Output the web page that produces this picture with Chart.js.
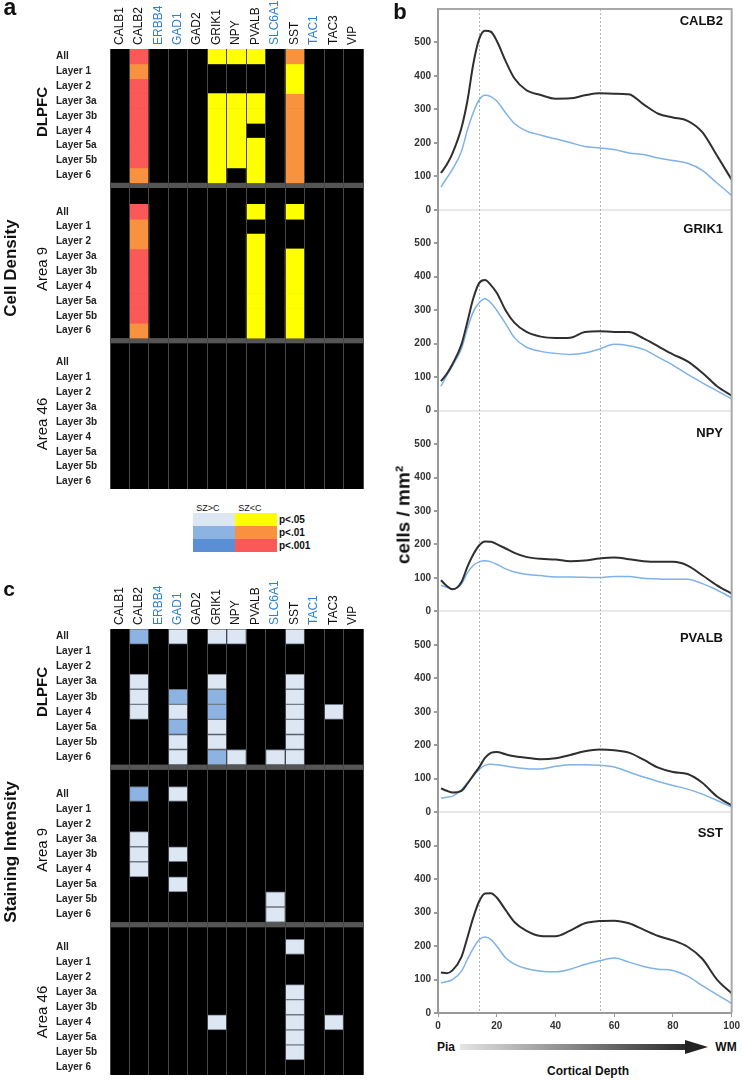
<!DOCTYPE html>
<html>
<head>
<meta charset="utf-8">
<script src="https://cdn.jsdelivr.net/npm/chart.js@4.4.0/dist/chart.umd.min.js"></script>
<style>
  body { margin: 0; background: #fff; font-family: "Liberation Sans", Arial, sans-serif; }
  #page { position: relative; width: 743px; height: 1081px; overflow: hidden; }
  canvas { position: absolute; }
  .t { position: absolute; white-space: nowrap; line-height: 1; color: #111; transform: translate(-50%, -50%); }
  .r { transform: translate(-50%, -50%) rotate(-90deg); }
  .b { font-weight: bold; }
  .lg { position: absolute; }
</style>
</head>
<body>
<div id="page">
  <canvas id="heatA" width="380" height="500" style="left:0;top:0"></canvas>
  <canvas id="heatC" width="380" height="501" style="left:0;top:580px"></canvas>
  <canvas id="depthChart" width="353" height="1035" style="left:390px;top:0"></canvas>

  <div class="t b" style="left:10px;top:7px;font-size:23px">a</div>
  <div class="t b" style="left:400px;top:12px;font-size:22px">b</div>
  <div class="t b" style="left:9px;top:588px;font-size:21px">c</div>

  <div class="t r b" style="left:10px;top:268px;font-size:17px">Cell Density</div>
  <div class="t r b" style="left:41px;top:112px;font-size:15px">DLPFC</div>
  <div class="t r" style="left:41px;top:269px;font-size:15px">Area 9</div>
  <div class="t r" style="left:41px;top:424px;font-size:15px">Area 46</div>

  <div class="t r b" style="left:10px;top:852px;font-size:17px">Staining Intensity</div>
  <div class="t r b" style="left:41px;top:692px;font-size:15px">DLPFC</div>
  <div class="t r" style="left:41px;top:850px;font-size:15px">Area 9</div>
  <div class="t r" style="left:41px;top:1012px;font-size:15px">Area 46</div>

  <div id="legend"></div>

  <div class="t r b" style="left:403px;top:515px;font-size:19px">cells / mm²</div>
  <div class="t b" style="left:726px;top:1047px;font-size:12px">WM</div>
  <div class="t b" style="left:446px;top:1047px;font-size:12px">Pia</div>
  <div style="position:absolute;left:460px;top:1044px;width:226px;height:6px;background:linear-gradient(to right,#e4e4e4,#2a2a2a)"></div>
  <div style="position:absolute;left:685px;top:1040px;width:0;height:0;border-left:23px solid #222;border-top:7px solid transparent;border-bottom:7px solid transparent"></div>
  <div class="t b" style="left:588px;top:1071px;font-size:12px">Cortical Depth</div>
  <div id="panelNames"></div>
</div>

<script>
// ---- heatmap data ----
const genes = ['CALB1', 'CALB2', 'ERBB4', 'GAD1', 'GAD2', 'GRIK1', 'NPY', 'PVALB', 'SLC6A1', 'SST', 'TAC1', 'TAC3', 'VIP'];
const blueGenes = ['ERBB4', 'GAD1', 'SLC6A1', 'TAC1'];
const layers = ['All', 'Layer 1', 'Layer 2', 'Layer 3a', 'Layer 3b', 'Layer 4', 'Layer 5a', 'Layer 5b', 'Layer 6'];
const sigLabels = ['p<.05', 'p<.01', 'p<.001'];

// 0 = n.s., 1 = p<.05, 2 = p<.01, 3 = p<.001 ; one row per layer, columns follow genes
const densityDLPFC = [
  [0,3,0,0,0,1,1,1,0,2,0,0,0],
  [0,2,0,0,0,0,0,0,0,1,0,0,0],
  [0,3,0,0,0,0,0,0,0,1,0,0,0],
  [0,3,0,0,0,1,1,1,0,2,0,0,0],
  [0,3,0,0,0,1,1,1,0,2,0,0,0],
  [0,3,0,0,0,1,1,0,0,2,0,0,0],
  [0,3,0,0,0,1,1,1,0,2,0,0,0],
  [0,3,0,0,0,1,1,1,0,2,0,0,0],
  [0,2,0,0,0,1,0,1,0,2,0,0,0]
];
const densityArea9 = [
  [0,3,0,0,0,0,0,1,0,1,0,0,0],
  [0,2,0,0,0,0,0,0,0,0,0,0,0],
  [0,2,0,0,0,0,0,1,0,0,0,0,0],
  [0,3,0,0,0,0,0,1,0,1,0,0,0],
  [0,3,0,0,0,0,0,1,0,1,0,0,0],
  [0,3,0,0,0,0,0,1,0,1,0,0,0],
  [0,3,0,0,0,0,0,1,0,1,0,0,0],
  [0,3,0,0,0,0,0,1,0,1,0,0,0],
  [0,2,0,0,0,0,0,1,0,1,0,0,0]
];
const densityArea46 = [
  [0,0,0,0,0,0,0,0,0,0,0,0,0],
  [0,0,0,0,0,0,0,0,0,0,0,0,0],
  [0,0,0,0,0,0,0,0,0,0,0,0,0],
  [0,0,0,0,0,0,0,0,0,0,0,0,0],
  [0,0,0,0,0,0,0,0,0,0,0,0,0],
  [0,0,0,0,0,0,0,0,0,0,0,0,0],
  [0,0,0,0,0,0,0,0,0,0,0,0,0],
  [0,0,0,0,0,0,0,0,0,0,0,0,0],
  [0,0,0,0,0,0,0,0,0,0,0,0,0]
];
const intensityDLPFC = [
  [0,2,0,1,0,1,1,0,0,1,0,0,0],
  [0,0,0,0,0,0,0,0,0,0,0,0,0],
  [0,0,0,0,0,0,0,0,0,0,0,0,0],
  [0,1,0,0,0,1,0,0,0,1,0,0,0],
  [0,1,0,2,0,2,0,0,0,1,0,0,0],
  [0,1,0,1,0,2,0,0,0,1,0,1,0],
  [0,0,0,2,0,1,0,0,0,1,0,0,0],
  [0,0,0,1,0,1,0,0,0,1,0,0,0],
  [0,0,0,1,0,2,1,0,1,1,0,0,0]
];
const intensityArea9 = [
  [0,2,0,1,0,0,0,0,0,0,0,0,0],
  [0,0,0,0,0,0,0,0,0,0,0,0,0],
  [0,0,0,0,0,0,0,0,0,0,0,0,0],
  [0,1,0,0,0,0,0,0,0,0,0,0,0],
  [0,1,0,1,0,0,0,0,0,0,0,0,0],
  [0,1,0,0,0,0,0,0,0,0,0,0,0],
  [0,0,0,1,0,0,0,0,0,0,0,0,0],
  [0,0,0,0,0,0,0,0,1,0,0,0,0],
  [0,0,0,0,0,0,0,0,1,0,0,0,0]
];
const intensityArea46 = [
  [0,0,0,0,0,0,0,0,0,1,0,0,0],
  [0,0,0,0,0,0,0,0,0,0,0,0,0],
  [0,0,0,0,0,0,0,0,0,0,0,0,0],
  [0,0,0,0,0,0,0,0,0,1,0,0,0],
  [0,0,0,0,0,0,0,0,0,1,0,0,0],
  [0,0,0,0,0,1,0,0,0,1,0,1,0],
  [0,0,0,0,0,0,0,0,0,1,0,0,0],
  [0,0,0,0,0,0,0,0,0,1,0,0,0],
  [0,0,0,0,0,0,0,0,0,0,0,0,0]
];

// ---- cortical depth profiles (cells / mm2) ----
const depth = [1, 3, 5, 8, 10, 12, 14, 16, 18, 20, 23, 26, 30, 35, 40, 45, 50, 55, 60, 65, 70, 75, 80, 85, 90, 95, 100];
const calb2Black = [110, 135, 170, 245, 325, 435, 510, 535, 532, 505, 445, 393, 358, 343, 332, 333, 342, 348, 347, 345, 315, 287, 276, 266, 232, 162, 90];
const calb2Blue  = [68, 95, 122, 175, 238, 290, 328, 342, 338, 325, 290, 258, 236, 223, 212, 201, 189, 185, 180, 170, 165, 155, 147, 139, 118, 80, 43];
const grik1Black = [88, 110, 140, 198, 265, 335, 381, 390, 375, 352, 300, 263, 236, 221, 217, 218, 235, 237, 235, 235, 216, 192, 168, 147, 113, 73, 45];
const grik1Blue  = [73, 105, 135, 185, 245, 295, 322, 334, 322, 300, 260, 218, 190, 177, 171, 168, 172, 184, 198, 194, 183, 160, 136, 108, 83, 59, 35];
const npyBlack   = [93, 76, 66, 88, 133, 170, 197, 209, 208, 201, 188, 175, 163, 157, 155, 150, 152, 158, 161, 156, 150, 148, 148, 137, 108, 78, 53];
const npyBlue    = [78, 72, 67, 82, 115, 137, 148, 151, 148, 141, 127, 118, 111, 107, 103, 103, 102, 101, 104, 104, 99, 97, 96, 96, 83, 64, 40];
const pvalbBlack = [71, 64, 59, 64, 85, 110, 134, 162, 177, 180, 173, 167, 163, 158, 161, 171, 182, 187, 185, 178, 157, 133, 120, 114, 88, 47, 20];
const pvalbBlue  = [42, 45, 48, 67, 88, 108, 128, 140, 143, 142, 138, 134, 130, 129, 137, 142, 142, 140, 135, 120, 105, 92, 80, 69, 54, 35, 15];
const sstBlack   = [121, 119, 128, 168, 225, 285, 333, 357, 358, 345, 308, 272, 246, 230, 229, 246, 268, 275, 276, 268, 249, 230, 217, 198, 162, 100, 59];
const sstBlue    = [90, 94, 100, 125, 160, 193, 219, 227, 220, 200, 165, 146, 133, 125, 123, 131, 145, 156, 164, 152, 139, 131, 127, 110, 82, 55, 29];
const layerBounds = [14, 55];

const panels = [
  { name: 'CALB2', black: calb2Black, blue: calb2Blue, labelY: 20 },
  { name: 'GRIK1', black: grik1Black, blue: grik1Blue, labelY: 228 },
  { name: 'NPY', black: npyBlack, blue: npyBlue, labelY: 432 },
  { name: 'PVALB', black: pvalbBlack, blue: pvalbBlue, labelY: 637 },
  { name: 'SST', black: sstBlack, blue: sstBlue, labelY: 832 }
];

const densityColors = ['#000', '#ffff00', '#f8923f', '#fb5858'];
const intensityColors = ['#000', '#dde7f4', '#8db3e2', '#5a8fd6'];

Chart.defaults.font.family = '"Liberation Sans", Arial, sans-serif';

// layout of the heatmap rows, in row units
const blockTop = [0, 10.45, 20.6];
const blockMax = 29.6;
const sepBands = [[9, 9.35], [19.45, 19.8]];

const heatBg = {
  id: 'heatBg',
  beforeDatasetsDraw(chart) {
    const { ctx, chartArea: a } = chart;
    const y = chart.scales.y;
    ctx.save();
    ctx.fillStyle = '#000';
    ctx.fillRect(a.left, a.top, a.width, a.height);
    ctx.fillStyle = '#555';
    sepBands.forEach(([s, e]) => {
      const y0 = y.getPixelForValue(s);
      const y1 = y.getPixelForValue(e);
      ctx.fillRect(a.left, y0, a.width, y1 - y0);
    });
    ctx.restore();
  }
};

function drawHeat(id, blocks, palette, outlined, padBottom) {
  const rowCenters = [];
  const rowNames = [];
  const datasets = [];
  blocks.forEach((block, b) => {
    block.forEach((codes, l) => {
      const top = blockTop[b] + l;
      rowCenters.push(top + 0.5);
      rowNames.push(layers[l]);
      datasets.push({
        data: codes.map(c => (c ? [top, top + 1] : null)),
        backgroundColor: codes.map(c => palette[c]),
        borderColor: outlined ? 'rgba(120,130,145,0.9)' : 'rgba(0,0,0,0)',
        borderWidth: outlined ? 1 : 0,
        borderSkipped: false,
        grouped: false,
        categoryPercentage: 1,
        barPercentage: 1
      });
    });
  });

  return new Chart(document.getElementById(id), {
    type: 'bar',
    data: { labels: genes, datasets: datasets },
    plugins: [heatBg],
    options: {
      responsive: false,
      animation: false,
      devicePixelRatio: 1,
      events: [],
      layout: { padding: { left: 56, right: 17, top: 0, bottom: padBottom } },
      plugins: { legend: { display: false }, tooltip: { enabled: false } },
      scales: {
        x: {
          position: 'top',
          afterFit: s => { s.height = 49; },
          grid: { offset: true, color: '#474747', lineWidth: 1, drawTicks: false, z: 1 },
          border: { display: false },
          ticks: {
            minRotation: 90, maxRotation: 90, padding: 4, autoSkip: false, labelOffset: 14,
            font: { size: 12 },
            color: c => (blueGenes.includes(genes[c.index]) ? '#2d80d2' : '#111')
          }
        },
        y: {
          min: 0, max: blockMax, reverse: true,
          afterFit: s => { s.width = 54; },
          afterBuildTicks: s => { s.ticks = rowCenters.map(v => ({ value: v })); },
          grid: { display: false },
          border: { display: false },
          ticks: {
            autoSkip: false, crossAlign: 'far', padding: 0,
            font: { size: 10, weight: 'bold' }, color: '#222',
            callback: (v, i) => rowNames[i]
          }
        }
      }
    }
  });
}

drawHeat('heatA', [densityDLPFC, densityArea9, densityArea46], densityColors, false, 11);
drawHeat('heatC', [intensityDLPFC, intensityArea9, intensityArea46], intensityColors, true, 1);

// legend
const legend = document.getElementById('legend');
let lg = '<div class="t" style="left:208px;top:508px;font-size:9px">SZ&gt;C</div>' +
         '<div class="t" style="left:250px;top:508px;font-size:9px">SZ&lt;C</div>';
sigLabels.forEach((s, i) => {
  const top = 513 + i * 13;
  lg += '<div class="lg" style="left:193px;top:' + top + 'px;width:42px;height:13px;background:' + intensityColors[i + 1] + '"></div>';
  lg += '<div class="lg" style="left:235px;top:' + top + 'px;width:42px;height:13px;background:' + densityColors[i + 1] + '"></div>';
  lg += '<div class="lg b" style="left:279px;top:' + (top + 2) + 'px;font-size:10px;line-height:1;color:#111">' + s + '</div>';
});
legend.innerHTML = lg;

// panel names
document.getElementById('panelNames').innerHTML = panels.map(p =>
  '<div class="b" style="position:absolute;right:20px;top:' + p.labelY + 'px;transform:translateY(-50%);font-size:13px;line-height:1;color:#111">' + p.name + '</div>'
).join('');

// depth profile chart: five stacked y axes sharing one x axis
const depthFrame = {
  id: 'depthFrame',
  beforeDatasetsDraw(chart) {
    const { ctx, chartArea: a } = chart;
    const x = chart.scales.x;
    ctx.save();
    ctx.strokeStyle = '#b5b5b5';
    ctx.lineWidth = 1;
    ctx.setLineDash([2, 2]);
    layerBounds.forEach(v => {
      const px = Math.round(x.getPixelForValue(v)) + 0.5;
      ctx.beginPath();
      ctx.moveTo(px, a.top);
      ctx.lineTo(px, a.bottom);
      ctx.stroke();
    });
    ctx.restore();
  },
  afterDraw(chart) {
    const { ctx, chartArea: a } = chart;
    ctx.save();
    ctx.strokeStyle = '#a8a8a8';
    ctx.lineWidth = 2;
    ctx.beginPath();
    ctx.moveTo(a.left, a.top);
    ctx.lineTo(a.right, a.top);
    ctx.lineTo(a.right, a.bottom);
    ctx.stroke();
    ctx.restore();
  }
};

const yScales = {};
const lineSets = [];
panels.forEach((p, k) => {
  lineSets.push({
    data: depth.map((d, i) => ({ x: d, y: p.black[i] })),
    yAxisID: 'y' + k,
    borderColor: '#2f2f2f',
    borderWidth: 2,
    pointRadius: 0,
    cubicInterpolationMode: 'monotone'
  });
  lineSets.push({
    data: depth.map((d, i) => ({ x: d, y: p.blue[i] })),
    yAxisID: 'y' + k,
    borderColor: '#7fb2e6',
    borderWidth: 1.5,
    pointRadius: 0,
    cubicInterpolationMode: 'monotone'
  });
});
// stacked left axes are laid out bottom-up, so add the lowest panel first
for (let k = panels.length - 1; k >= 0; k--) {
  yScales['y' + k] = {
    type: 'linear',
    position: 'left',
    stack: 'depth',
    stackWeight: 1,
    offset: false,
    min: 0,
    max: 600,
    afterFit: s => { s.width = 48; },
    afterBuildTicks: s => { s.ticks = s.ticks.filter(t => t.value <= 500); },
    ticks: { stepSize: 100, padding: 3, font: { size: 10, weight: 'bold' }, color: '#333' },
    grid: {
      color: c => (c.tick && c.tick.value === 0 ? '#e9e9e9' : 'rgba(0,0,0,0)'),
      lineWidth: 2, tickLength: 4, tickColor: '#9a9a9a'
    },
    border: { color: '#9a9a9a', width: 2 }
  };
}

new Chart(document.getElementById('depthChart'), {
  type: 'line',
  data: { datasets: lineSets },
  plugins: [depthFrame],
  options: {
    responsive: false,
    animation: false,
    devicePixelRatio: 1,
    events: [],
    layout: { padding: { left: 0, right: 8, top: 4, bottom: 0 } },
    plugins: { legend: { display: false }, tooltip: { enabled: false } },
    scales: Object.assign({
      x: {
        type: 'linear',
        min: 0,
        max: 100,
        afterFit: s => { s.height = 22; },
        ticks: { stepSize: 20, padding: 3, font: { size: 10, weight: 'bold' }, color: '#333' },
        grid: { drawOnChartArea: false, tickLength: 4, color: '#9a9a9a' },
        border: { color: '#9a9a9a', width: 2 }
      }
    }, yScales)
  }
});
</script>
</body>
</html>
